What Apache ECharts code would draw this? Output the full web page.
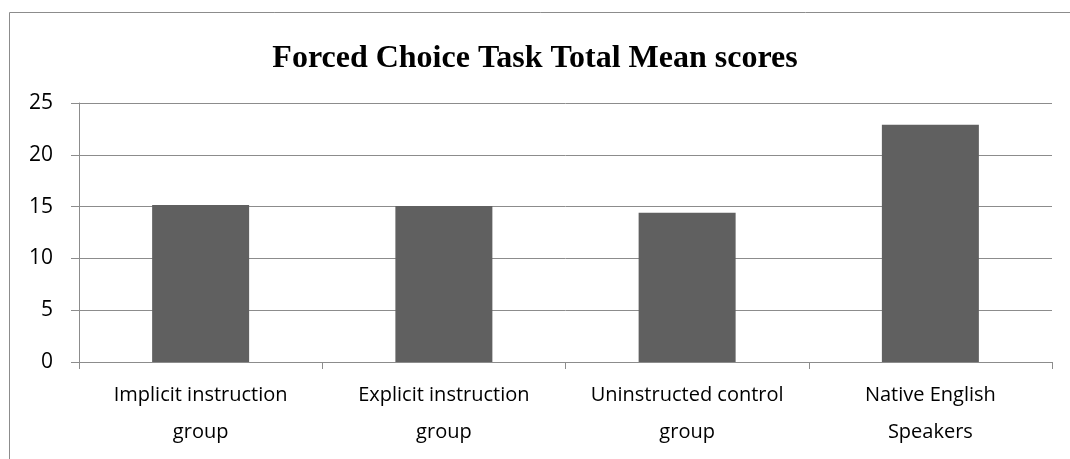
<!DOCTYPE html>
<html>
<head>
<meta charset="utf-8">
<script src="https://cdn.jsdelivr.net/npm/echarts@6/dist/echarts.min.js"></script>
<style>
  html, body { margin: 0; padding: 0; background: #fff; }
  #chart { width: 1070px; height: 459px; }
</style>
</head>
<body>
<div id="chart"></div>
<script>
// data
var categories = ['Implicit instruction\ngroup', 'Explicit instruction\ngroup', 'Uninstructed control\ngroup', 'Native English\nSpeakers'];
var meanScores = [15.15, 15.05, 14.4, 22.9];
var yTicks = [0, 5, 10, 15, 20, 25];

var chart = echarts.init(document.getElementById('chart'));
chart.setOption({
  backgroundColor: '#ffffff',
  animation: false,
  graphic: [{
    type: 'rect',
    shape: { x: 9.5, y: 12.5, width: 1080, height: 470 },
    style: { fill: 'none', stroke: '#8c8c8c', lineWidth: 1 },
    z: 0
  }],
  title: {
    text: 'Forced Choice Task Total Mean scores',
    left: 'center',
    top: 38,
    textStyle: {
      fontFamily: 'Liberation Serif',
      fontWeight: 'bold',
      fontSize: 32,
      color: '#000'
    }
  },
  grid: {
    left: 79,
    right: 18,
    top: 103,
    bottom: 97
  },
  xAxis: {
    type: 'category',
    data: categories,
    axisLine: { lineStyle: { color: '#8c8c8c', width: 1 } },
    axisTick: { show: true, length: 7, lineStyle: { color: '#8c8c8c' } },
    axisLabel: {
      interval: 0,
      margin: 15,
      fontFamily: 'Open Sans',
      fontSize: 20,
      lineHeight: 37,
      color: '#000'
    }
  },
  yAxis: {
    type: 'value',
    min: yTicks[0],
    max: yTicks[yTicks.length - 1],
    interval: 5,
    axisLine: { show: true, lineStyle: { color: '#8c8c8c', width: 1 } },
    axisTick: { show: true, length: 8, lineStyle: { color: '#8c8c8c' } },
    axisLabel: {
      margin: 26,
      fontFamily: 'Open Sans',
      fontSize: 21,
      color: '#000'
    },
    splitLine: { lineStyle: { color: '#8c8c8c', width: 1 } }
  },
  series: [{
    type: 'bar',
    data: meanScores,
    barWidth: 97,
    itemStyle: { color: '#606060' }
  }]
});
</script>
</body>
</html>
